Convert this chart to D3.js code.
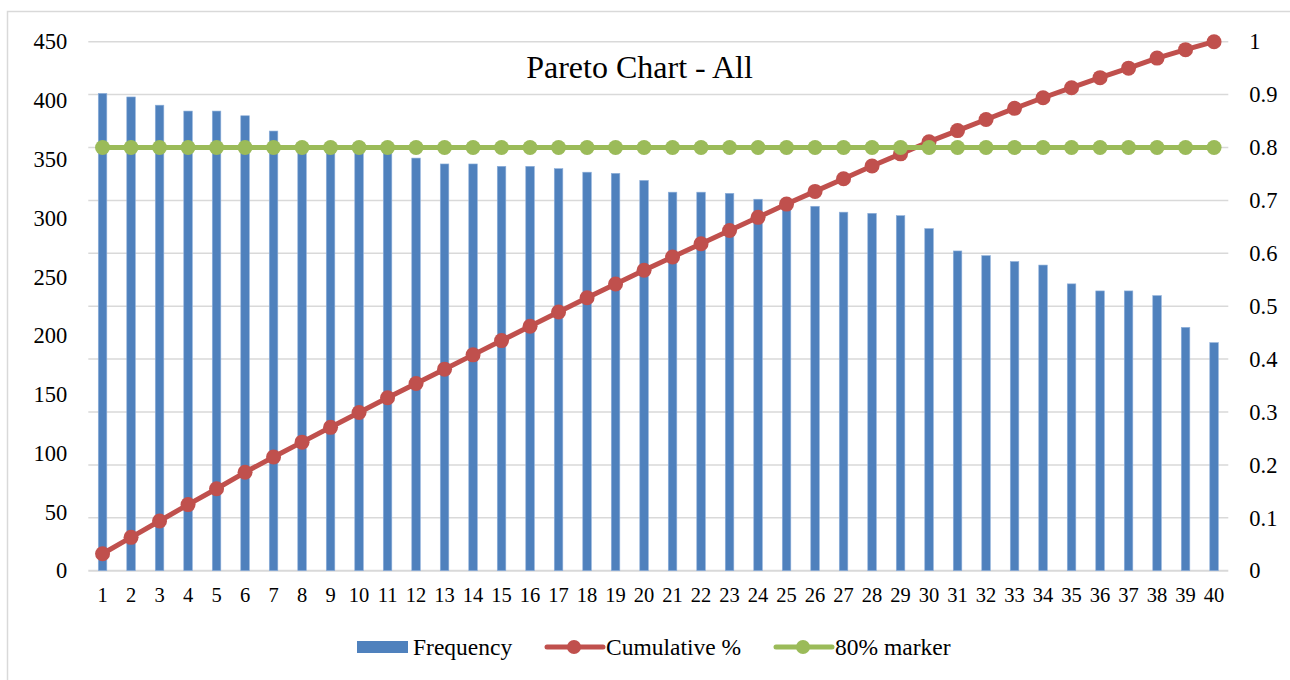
<!DOCTYPE html>
<html>
<head>
<meta charset="utf-8">
<script src="https://cdn.jsdelivr.net/npm/d3@7"></script>
<style>
  body { margin: 0; background: #fff; }
  text { font-family: "Liberation Serif", "Times New Roman", serif; fill: #000; }
</style>
</head>
<body>
<svg id="chart"></svg>
<script>
// Data
const categories = d3.range(1, 41).map(String);
const frequency = [406, 403, 396, 391, 391, 387, 374, 358, 358, 357,
                   357, 351, 346, 346, 344, 344, 342, 339, 338, 332,
                   322, 322, 321, 316, 312, 310, 305, 304, 302, 291,
                   272, 268, 263, 260, 244, 238, 238, 234, 207, 194];
const cumulative = [0.032, 0.063, 0.094, 0.125, 0.155, 0.186, 0.215, 0.243, 0.271, 0.299,
                    0.327, 0.354, 0.381, 0.408, 0.435, 0.462, 0.489, 0.516, 0.542, 0.568,
                    0.593, 0.618, 0.643, 0.668, 0.693, 0.717, 0.741, 0.765, 0.788, 0.811,
                    0.832, 0.853, 0.874, 0.894, 0.913, 0.932, 0.950, 0.969, 0.985, 1.000];
const marker80 = [0.8, 0.8, 0.8, 0.8, 0.8, 0.8, 0.8, 0.8, 0.8, 0.8,
                  0.8, 0.8, 0.8, 0.8, 0.8, 0.8, 0.8, 0.8, 0.8, 0.8,
                  0.8, 0.8, 0.8, 0.8, 0.8, 0.8, 0.8, 0.8, 0.8, 0.8,
                  0.8, 0.8, 0.8, 0.8, 0.8, 0.8, 0.8, 0.8, 0.8, 0.8];
const leftTicks = [0, 50, 100, 150, 200, 250, 300, 350, 400, 450];
const rightTicks = [0, 0.1, 0.2, 0.3, 0.4, 0.5, 0.6, 0.7, 0.8, 0.9, 1];
const seriesNames = ["Frequency", "Cumulative %", "80% marker"];

const W = 1290, H = 680;
const blue = "#4F81BD", red = "#C0504D", green = "#9BBB59", grid = "#D9D9D9";
const serif = "'Liberation Serif', 'Times New Roman', serif";

// plot area
const plot = { left: 88.3, right: 1228.3, top: 41.7, bottom: 570.7 };

const svg = d3.select("#chart").attr("width", W).attr("height", H);

// chart border
svg.append("rect")
    .attr("x", 7.5).attr("y", 11.5)
    .attr("width", W).attr("height", H)
    .attr("fill", "#fff")
    .attr("stroke", grid).attr("stroke-width", 1.5);

// Scales
const x = d3.scaleBand()
    .domain(categories)
    .range([plot.left, plot.right])
    .paddingInner(0.7)
    .paddingOuter(0.35);

const yLeft = d3.scaleLinear().domain([0, 450]).range([plot.bottom, plot.top]);
const yRight = d3.scaleLinear().domain([0, 1]).range([plot.bottom, plot.top]);

const cx = d => x(d) + x.bandwidth() / 2;

// Gridlines (follow the secondary axis steps)
svg.append("g")
    .selectAll("line")
    .data(rightTicks)
    .enter()
    .append("line")
    .attr("x1", plot.left)
    .attr("x2", plot.right)
    .attr("y1", d => yRight(d))
    .attr("y2", d => yRight(d))
    .attr("stroke", grid)
    .attr("stroke-width", d => d === 0 ? 2 : 1.5);

// Axes
const leftAxis = svg.append("g")
    .attr("transform", `translate(${plot.left},0)`)
    .call(d3.axisLeft(yLeft).tickValues(leftTicks).tickSize(0).tickPadding(21));

const rightAxis = svg.append("g")
    .attr("transform", `translate(${plot.right},0)`)
    .call(d3.axisRight(yRight).tickValues(rightTicks).tickSize(0).tickPadding(21)
        .tickFormat(d => d3.format("~g")(d)));

const bottomAxis = svg.append("g")
    .attr("transform", `translate(0,${plot.bottom})`)
    .call(d3.axisBottom(x).tickSize(0).tickPadding(17));

[leftAxis, rightAxis, bottomAxis].forEach(g => {
    g.attr("font-family", serif);
    g.select(".domain").remove();
    g.selectAll("text")
        .style("font-family", serif)
        .style("font-size", "22.5px")
        .attr("fill", "#000");
});
bottomAxis.selectAll("text").style("font-size", "20.5px");

// Title
svg.append("text")
    .attr("x", 639.5)
    .attr("y", 78)
    .attr("text-anchor", "middle")
    .style("font-size", "32px")
    .text("Pareto Chart - All");

// Bars
svg.selectAll(".bar")
    .data(frequency)
    .enter()
    .append("rect")
    .attr("class", "bar")
    .attr("x", (d, i) => x(categories[i]))
    .attr("y", d => yLeft(d))
    .attr("width", x.bandwidth())
    .attr("height", d => yLeft(0) - yLeft(d))
    .attr("fill", blue)
    .attr("stroke", "#8FB0DA")
    .attr("stroke-width", 0.6);

// Lines with markers
function drawSeries(values, color) {
    const line = d3.line()
        .x((d, i) => cx(categories[i]))
        .y(d => yRight(d));
    svg.append("path")
        .datum(values)
        .attr("fill", "none")
        .attr("stroke", color)
        .attr("stroke-width", 5)
        .attr("stroke-linejoin", "round")
        .attr("d", line);
    svg.append("g")
        .selectAll("circle")
        .data(values)
        .enter()
        .append("circle")
        .attr("cx", (d, i) => cx(categories[i]))
        .attr("cy", d => yRight(d))
        .attr("r", 7.5)
        .attr("fill", color);
}
drawSeries(cumulative, red);
drawSeries(marker80, green);

// Legend
const legendY = 647;
const legend = svg.append("g").attr("class", "legend");

legend.append("rect")
    .attr("x", 357).attr("y", legendY - 6)
    .attr("width", 51).attr("height", 12)
    .attr("fill", blue);
legend.append("text")
    .attr("x", 413).attr("y", legendY + 8)
    .style("font-size", "23.5px")
    .text(seriesNames[0]);

[[547, red, seriesNames[1]], [776, green, seriesNames[2]]].forEach(([lx, color, name]) => {
    legend.append("line")
        .attr("x1", lx).attr("x2", lx + 56)
        .attr("y1", legendY).attr("y2", legendY)
        .attr("stroke", color).attr("stroke-width", 5)
        .attr("stroke-linecap", "round");
    legend.append("circle")
        .attr("cx", lx + 27).attr("cy", legendY)
        .attr("r", 7).attr("fill", color);
    legend.append("text")
        .attr("x", lx + 59).attr("y", legendY + 8)
        .style("font-size", "23.5px")
        .text(name);
});
</script>
</body>
</html>
